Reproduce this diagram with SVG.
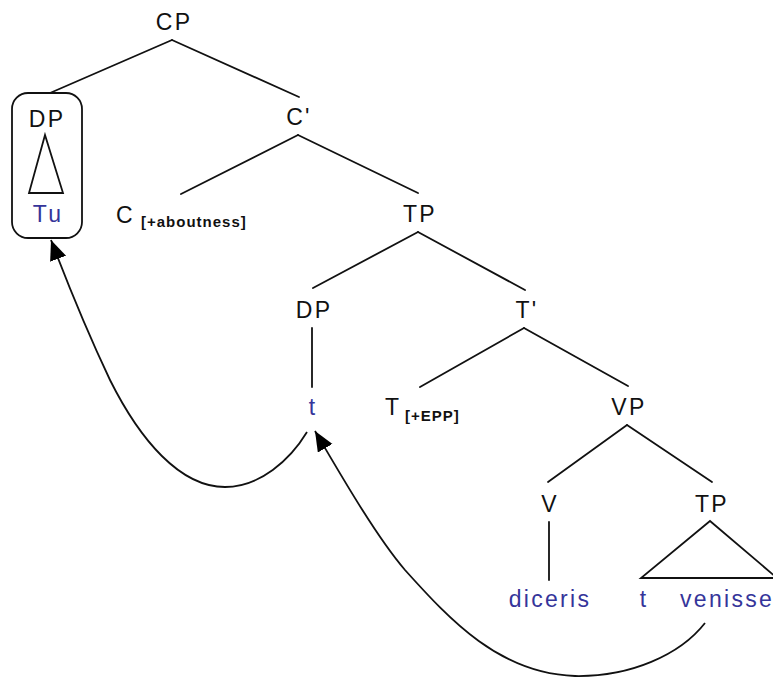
<svg xmlns="http://www.w3.org/2000/svg" width="773" height="677" viewBox="0 0 773 677">
<style>
.lbl{font-family:"Liberation Sans",Arial,sans-serif;font-size:23px;fill:#111;letter-spacing:2.3px}
.mid{text-anchor:middle}
.blue{fill:#35359a}
.sub{font-family:"Liberation Sans",Arial,sans-serif;font-size:15px;font-weight:bold;fill:#111;letter-spacing:1px}
.edge{stroke:#111;stroke-width:1.8;fill:none;stroke-linecap:round}
.move{stroke:#111;stroke-width:1.8;fill:none;marker-end:url(#ah)}
</style>
<defs>
<marker id="ah" markerUnits="userSpaceOnUse" markerWidth="22" markerHeight="18" refX="20" refY="8.5" orient="auto">
<path d="M0,0 L20,8.5 L0,17 z" fill="#000"/>
</marker>
</defs>
<rect width="773" height="677" fill="#fff"/>
<g id="connectors">
<line class="edge" x1="172" y1="40" x2="50" y2="93"/>
<line class="edge" x1="172" y1="40" x2="299" y2="97"/>
<line class="edge" x1="298" y1="135" x2="181" y2="194"/>
<line class="edge" x1="298" y1="135" x2="418" y2="193"/>
<line class="edge" x1="418" y1="232" x2="313" y2="288"/>
<line class="edge" x1="418" y1="232" x2="525" y2="290"/>
<line class="edge" x1="312" y1="328" x2="312" y2="387"/>
<line class="edge" x1="524" y1="328" x2="420" y2="387"/>
<line class="edge" x1="524" y1="328" x2="628" y2="386"/>
<line class="edge" x1="627" y1="425" x2="548" y2="482"/>
<line class="edge" x1="627" y1="425" x2="712" y2="482"/>
<line class="edge" x1="549" y1="522" x2="549" y2="580"/>
<path class="move" d="M307,432 C290,460 260,487 225,487 C180,487 140,440 110,380 C92,342 70,290 51,240"/>
<path class="move" d="M705,623 C680,655 630,677 575,676 C500,674 450,620 405,570 C375,535 338,470 315,431"/>
</g>
<g id="CP"><text class="lbl mid" x="174" y="30">CP</text></g>
<g id="DP1">
<rect x="12" y="93" width="70" height="145" rx="16" fill="none" stroke="#111" stroke-width="1.8"/>
<text class="lbl mid" x="47" y="127">DP</text>
<polygon points="45,135 29,193 63,193" fill="none" stroke="#111" stroke-width="1.8"/>
<text class="lbl mid blue" x="48" y="222">Tu</text>
</g>
<g id="Cbar"><text class="lbl mid" x="299" y="125">C'</text></g>
<g id="C"><text class="lbl" x="116" y="223">C</text><text class="sub" x="141" y="227">[+aboutness]</text></g>
<g id="TP1"><text class="lbl mid" x="420" y="222">TP</text></g>
<g id="DP2"><text class="lbl mid" x="314" y="318">DP</text></g>
<g id="t1"><text class="lbl mid blue" x="313" y="415">t</text></g>
<g id="Tbar"><text class="lbl mid" x="527" y="318">T'</text></g>
<g id="T"><text class="lbl" x="385" y="415">T</text><text class="sub" x="405" y="421">[+EPP]</text></g>
<g id="VP"><text class="lbl mid" x="629" y="415">VP</text></g>
<g id="V"><text class="lbl mid" x="550" y="512">V</text></g>
<g id="TP2">
<text class="lbl mid" x="712" y="512">TP</text>
<polygon points="710,521 641,578 777,578" fill="none" stroke="#111" stroke-width="1.8"/>
</g>
<g id="diceris"><text class="lbl mid blue" x="550" y="607">diceris</text></g>
<g id="t2"><text class="lbl mid blue" x="644" y="607">t</text></g>
<g id="venisse"><text class="lbl blue" x="680" y="607">venisse</text></g>
</svg>
